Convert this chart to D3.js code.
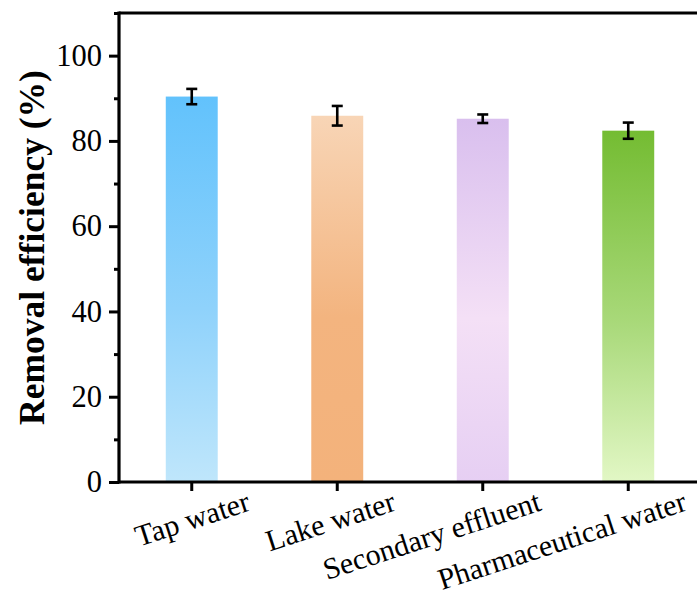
<!DOCTYPE html>
<html>
<head>
<meta charset="utf-8">
<script src="https://cdn.jsdelivr.net/npm/d3@7"></script>
<style>
  html, body { margin: 0; padding: 0; background: #fff; }
  svg { display: block; }
  text { font-family: "Liberation Serif", "Times New Roman", serif; }
</style>
</head>
<body>
<svg id="chart" width="697" height="599"></svg>
<script>
// Removal efficiency by water matrix
const categories = ["Tap water", "Lake water", "Secondary effluent", "Pharmaceutical water"];
const efficiency = [90.4, 85.9, 85.2, 82.4];
const errors = [1.8, 2.3, 1.0, 1.9];
const yTicks = [0, 20, 40, 60, 80, 100];
const yMinorTicks = [10, 30, 50, 70, 90, 110];

// Vertical gradient for each bar: [top colour, middle colour, bottom colour]
const barGradients = [
  ["#62c2fc", "#8fd2fb", "#bfe6fb"],
  ["#f8d5b6", "#f3b47f", "#f3b27b"],
  ["#d9bfee", "#f4e0f6", "#e6cff3"],
  ["#74bc32", "#a9d97a", "#e2f7c5"]
];

const svg = d3.select("#chart");
const margin = { left: 119, top: 13, bottom: 482, right: 701 };

const x = d3.scaleBand()
  .domain(categories)
  .range([margin.left, margin.right])
  .paddingInner(0.643)
  .paddingOuter(0.3215);

const y = d3.scaleLinear()
  .domain([0, 110])
  .range([margin.bottom, margin.top]);

// gradients
const defs = svg.append("defs");
categories.forEach((c, i) => {
  const g = defs.append("linearGradient")
    .attr("id", "grad" + i)
    .attr("x1", 0).attr("y1", 0).attr("x2", 0).attr("y2", 1);
  const cols = barGradients[i];
  g.append("stop").attr("offset", "0%").attr("stop-color", cols[0]);
  g.append("stop").attr("offset", "55%").attr("stop-color", cols[1]);
  g.append("stop").attr("offset", "100%").attr("stop-color", cols[2]);
});

// bars
svg.append("g").selectAll("rect")
  .data(categories)
  .join("rect")
  .attr("x", d => x(d))
  .attr("width", x.bandwidth())
  .attr("y", (d, i) => y(efficiency[i]))
  .attr("height", (d, i) => y(0) - y(efficiency[i]))
  .attr("fill", (d, i) => `url(#grad${i})`);

// error bars
const capW = 11;
const eb = svg.append("g").attr("stroke", "#000").attr("stroke-width", 2.6);
categories.forEach((c, i) => {
  const cx = x(c) + x.bandwidth() / 2;
  const hi = y(efficiency[i] + errors[i]);
  const lo = y(efficiency[i] - errors[i]);
  eb.append("line").attr("x1", cx).attr("x2", cx).attr("y1", hi).attr("y2", lo);
  eb.append("line").attr("x1", cx - capW / 2).attr("x2", cx + capW / 2).attr("y1", hi).attr("y2", hi);
  eb.append("line").attr("x1", cx - capW / 2).attr("x2", cx + capW / 2).attr("y1", lo).attr("y2", lo);
});

// y axis
const yAxis = svg.append("g")
  .attr("transform", `translate(${margin.left},0)`)
  .call(d3.axisLeft(y).tickValues(yTicks).tickSize(10).tickPadding(7).tickFormat(d3.format("d")));
yAxis.select(".domain").remove();
yAxis.selectAll(".tick line").attr("stroke", "#000").attr("stroke-width", 3);
yAxis.selectAll(".tick text").attr("font-size", 30.5).attr("fill", "#000")
  .attr("font-family", "'Liberation Serif', 'Times New Roman', serif");

const yMinor = svg.append("g")
  .attr("transform", `translate(${margin.left},0)`)
  .call(d3.axisLeft(y).tickValues(yMinorTicks).tickSize(5).tickFormat(""));
yMinor.select(".domain").remove();
yMinor.selectAll(".tick line").attr("stroke", "#000").attr("stroke-width", 3);

// x axis
const xAxis = svg.append("g")
  .attr("transform", `translate(0,${margin.bottom})`)
  .call(d3.axisBottom(x).tickSize(9).tickSizeOuter(0));
xAxis.select(".domain").remove();
xAxis.selectAll(".tick line").attr("stroke", "#000").attr("stroke-width", 3);
xAxis.selectAll(".tick text")
  .attr("font-size", 30)
  .attr("fill", "#000")
  .attr("font-family", "'Liberation Serif', 'Times New Roman', serif")
  .attr("text-anchor", "end")
  .attr("y", 0).attr("dy", 0)
  .attr("transform", "translate(60,28) rotate(-18)");

// frame lines: left, bottom, top
const frame = svg.append("g").attr("stroke", "#000").attr("stroke-width", 3.2).attr("fill", "none");
frame.append("line").attr("x1", margin.left).attr("x2", margin.left).attr("y1", margin.top - 1.6).attr("y2", margin.bottom + 1.6);
frame.append("line").attr("x1", margin.left).attr("x2", 697).attr("y1", margin.bottom).attr("y2", margin.bottom);
frame.append("line").attr("x1", margin.left).attr("x2", 697).attr("y1", margin.top).attr("y2", margin.top);

// y axis title
svg.append("text")
  .attr("transform", `translate(44,${(margin.top + margin.bottom) / 2}) rotate(-90)`)
  .attr("text-anchor", "middle")
  .attr("font-size", 35.5)
  .attr("font-weight", "bold")
  .attr("fill", "#000")
  .text("Removal efficiency (%)");
</script>
</body>
</html>
